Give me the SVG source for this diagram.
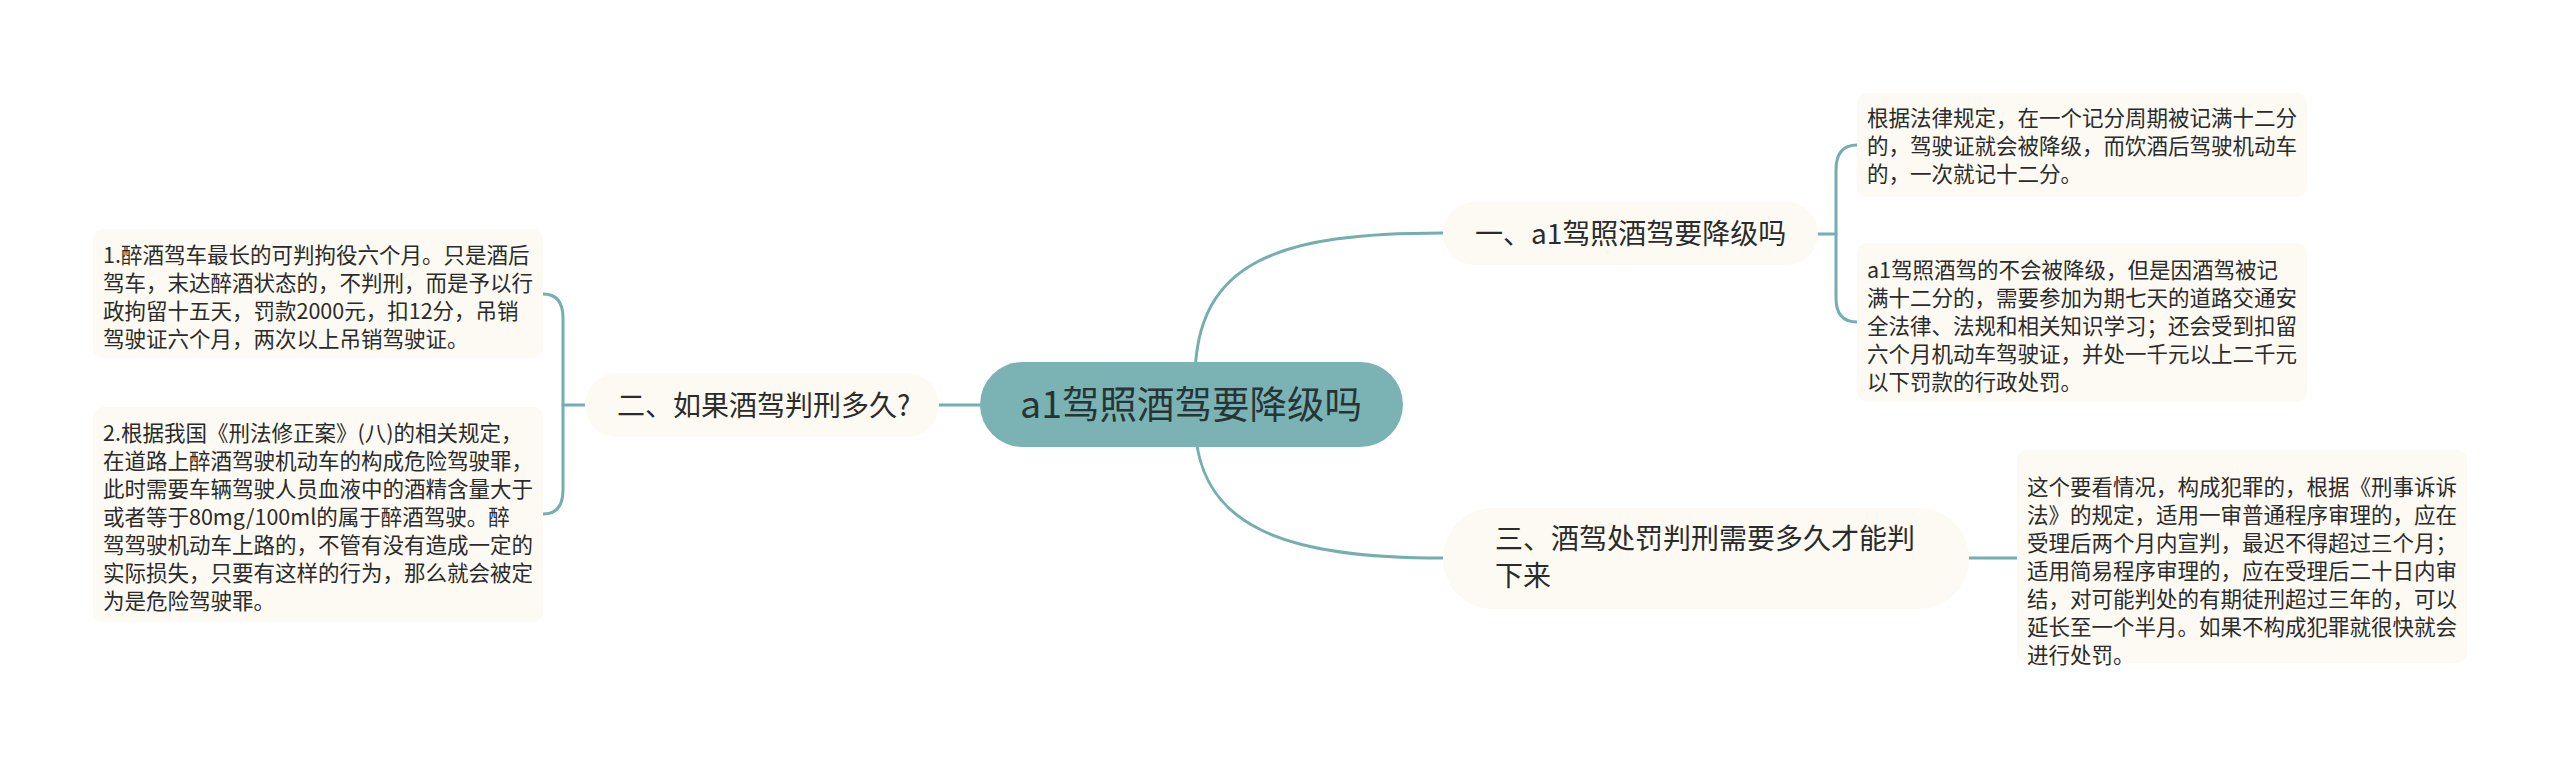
<svg xmlns="http://www.w3.org/2000/svg" width="2560" height="757" viewBox="0 0 2560 757">
<style>
.bg{fill:#ffffff}
.leaf{fill:#fcfaf2}
.main{fill:#fcfaf2}
.root{fill:#7bb3b5}
.conn{fill:none;stroke:#73aeb0;stroke-width:3;stroke-linecap:round}
text{font-family:"Noto Sans CJK SC","Noto Sans",sans-serif;fill:#2b2b2b}
.lt{font-size:21.5px}
.mt{font-size:28px}
.rt{font-size:37.5px;fill:#263536}
</style>
<rect class="bg" x="0" y="0" width="2560" height="757"/>
<g id="connectors">
<path class="conn" d="M1195,380 C1195,260 1280,233 1443,233"/>
<path class="conn" d="M1195,420 C1195,530 1290,558 1443,558"/>
<path class="conn" d="M939,405 L980,405"/>
<path class="conn" d="M1969,558 L2017,558"/>
<path class="conn" d="M1818,234 L1836,234"/>
<path class="conn" d="M1857,145 Q1836,145 1836,170 L1836,298 Q1836,322 1857,322"/>
<path class="conn" d="M585,405 L563,405"/>
<path class="conn" d="M543,294 Q563,294 563,318 L563,490 Q563,514 543,514"/>
</g>
<g id="root">
<rect class="root" x="980" y="362" width="423" height="85" rx="42.5"/>
<text class="rt" x="1191" y="418" text-anchor="middle">a1驾照酒驾要降级吗</text>
</g>
<g id="node1">
<rect class="main" x="1443" y="202" width="375" height="63" rx="31.5"/>
<text class="mt" x="1475" y="244">一、a1驾照酒驾要降级吗</text>
</g>
<g id="node2">
<rect class="main" x="585" y="373" width="354" height="64" rx="32"/>
<text class="mt" x="617" y="416">二、如果酒驾判刑多久?</text>
</g>
<g id="node3">
<rect class="main" x="1443" y="508" width="526" height="101" rx="50"/>
<text class="mt" x="1495" y="549">三、酒驾处罚判刑需要多久才能判</text>
<text class="mt" x="1495" y="586">下来</text>
</g>
<g id="leaf1a">
<rect class="leaf" x="1857" y="93" width="450" height="104" rx="10"/>
<text class="lt" x="1867" y="126">根据法律规定，在一个记分周期被记满十二分</text>
<text class="lt" x="1867" y="154">的，驾驶证就会被降级，而饮酒后驾驶机动车</text>
<text class="lt" x="1867" y="182">的，一次就记十二分。</text>
</g>
<g id="leaf1b">
<rect class="leaf" x="1857" y="243" width="450" height="159" rx="10"/>
<text class="lt" x="1867" y="278">a1驾照酒驾的不会被降级，但是因酒驾被记</text>
<text class="lt" x="1867" y="306">满十二分的，需要参加为期七天的道路交通安</text>
<text class="lt" x="1867" y="334">全法律、法规和相关知识学习；还会受到扣留</text>
<text class="lt" x="1867" y="362">六个月机动车驾驶证，并处一千元以上二千元</text>
<text class="lt" x="1867" y="390">以下罚款的行政处罚。</text>
</g>
<g id="leaf2a">
<rect class="leaf" x="93" y="229" width="450" height="129" rx="10"/>
<text class="lt" x="103" y="263">1.醉酒驾车最长的可判拘役六个月。只是酒后</text>
<text class="lt" x="103" y="291">驾车，末达醉酒状态的，不判刑，而是予以行</text>
<text class="lt" x="103" y="319">政拘留十五天，罚款2000元，扣12分，吊销</text>
<text class="lt" x="103" y="347">驾驶证六个月，两次以上吊销驾驶证。</text>
</g>
<g id="leaf2b">
<rect class="leaf" x="93" y="407" width="450" height="215" rx="10"/>
<text class="lt" x="103" y="441">2.根据我国《刑法修正案》(八)的相关规定，</text>
<text class="lt" x="103" y="469">在道路上醉酒驾驶机动车的构成危险驾驶罪，</text>
<text class="lt" x="103" y="497">此时需要车辆驾驶人员血液中的酒精含量大于</text>
<text class="lt" x="103" y="525">或者等于80mg/100ml的属于醉酒驾驶。醉</text>
<text class="lt" x="103" y="553">驾驾驶机动车上路的，不管有没有造成一定的</text>
<text class="lt" x="103" y="581">实际损失，只要有这样的行为，那么就会被定</text>
<text class="lt" x="103" y="609">为是危险驾驶罪。</text>
</g>
<g id="leaf3">
<rect class="leaf" x="2017" y="450" width="450" height="213" rx="10"/>
<text class="lt" x="2027" y="495">这个要看情况，构成犯罪的，根据《刑事诉诉</text>
<text class="lt" x="2027" y="523">法》的规定，适用一审普通程序审理的，应在</text>
<text class="lt" x="2027" y="551">受理后两个月内宣判，最迟不得超过三个月；</text>
<text class="lt" x="2027" y="579">适用简易程序审理的，应在受理后二十日内审</text>
<text class="lt" x="2027" y="607">结，对可能判处的有期徒刑超过三年的，可以</text>
<text class="lt" x="2027" y="635">延长至一个半月。如果不构成犯罪就很快就会</text>
<text class="lt" x="2027" y="663">进行处罚。</text>
</g>
</svg>
